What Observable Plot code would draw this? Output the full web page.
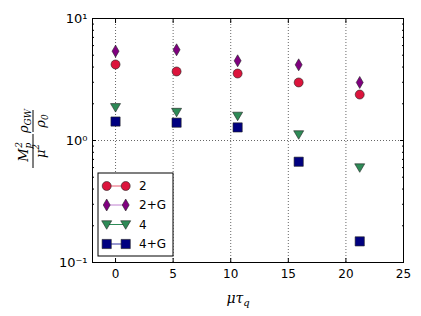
<!DOCTYPE html>
<html><head><meta charset="utf-8">
<script src="https://cdn.jsdelivr.net/npm/d3@7"></script>
<script src="https://cdn.jsdelivr.net/npm/@observablehq/plot@0.6"></script>
<style>
html,body{margin:0;padding:0;background:#fff;}
#chart{position:relative;width:421px;height:316px;}
</style></head>
<body><div id="chart"></div>
<script>
const xs = [0, 5.3, 10.6, 15.9, 21.2];
const s2 = [4.2, 3.68, 3.54, 2.99, 2.38];
const s2G = [5.4, 5.54, 4.5, 4.17, 2.99];
const s4 = [1.87, 1.71, 1.59, 1.12, 0.60];
const s4G = [1.43, 1.40, 1.28, 0.67, 0.149];
const seriesNames = ["2", "2+G", "4", "4+G"];
const seriesColors = ["#DC143C", "#800080", "#2E8B57", "#000080"];
const lineColors = ["#e8586f", "#c080d0", "#2E8B57", "#3030a0"];
const xTicks = [0, 5, 10, 15, 20, 25];
const yMajor = [0.1, 1, 10];
const yMajorLabels = ["10\u207B\u00B9", "10\u2070", "10\u00B9"];

const W = 421, H = 316, mL = 92, mR = 18, mT = 18, mB = 54;

const circleSym = {draw(ctx, size){ const r = Math.sqrt(size/Math.PI); ctx.moveTo(r,0); ctx.arc(0,0,r,0,2*Math.PI); }};
const thinDiamond = {draw(ctx, size){ const r = Math.sqrt(size/Math.PI); ctx.moveTo(0,-r); ctx.lineTo(r*0.58,0); ctx.lineTo(0,r); ctx.lineTo(-r*0.58,0); ctx.closePath(); }};
const triDown = {draw(ctx, size){ const r = Math.sqrt(size/Math.PI); ctx.moveTo(-r,-r*0.75); ctx.lineTo(r,-r*0.75); ctx.lineTo(0,r*0.95); ctx.closePath(); }};
const square = {draw(ctx, size){ const r = Math.sqrt(size/Math.PI); ctx.rect(-r,-r,2*r,2*r); }};
const symbols = [circleSym, thinDiamond, triDown, square];
const radii = [4.5, 6, 5, 4.6];
const values = [s2, s2G, s4, s4G];

const data = [];
values.forEach((arr, i) => arr.forEach((v, j) => data.push({x: xs[j], y: v, s: i})));

const minor = [];
for (const d of [0.1, 1]) for (let k = 2; k <= 9; k++) minor.push(+(d*k).toFixed(3));

const font = "DejaVu Sans, sans-serif";

const dotMarks = seriesNames.map((n, i) =>
  Plot.dot(data.filter(d => d.s === i), {x: "x", y: "y", symbol: symbols[i], r: radii[i],
    fill: seriesColors[i], stroke: "#222", strokeWidth: 0.6}));

const plot = Plot.plot({
  width: W, height: H,
  marginLeft: mL, marginRight: mR, marginTop: mT, marginBottom: mB,
  style: {fontFamily: font, fontSize: "12px", background: "transparent", color: "#000"},
  x: {domain: [-2, 25]},
  y: {type: "log", domain: [0.1, 10]},
  marks: [
    Plot.gridX(xTicks.slice(0, 5), {stroke: "#000", strokeOpacity: 0.6, strokeDasharray: "1,2"}),
    Plot.gridY([1], {stroke: "#000", strokeOpacity: 0.6, strokeDasharray: "1,2"}),
    Plot.axisX({anchor: "bottom", ticks: xTicks, tickSize: -4, tickPadding: 11, label: null, tickFormat: d => String(d), fontSize: 12}),
    Plot.axisX({anchor: "top", ticks: xTicks, tickSize: -4, label: null, tickFormat: () => ""}),
    Plot.axisY({anchor: "left", ticks: yMajor, tickSize: -4, tickPadding: 9, label: null, tickFormat: (d) => yMajorLabels[yMajor.indexOf(d)], fontSize: 13}),
    Plot.axisY({anchor: "left", ticks: minor, tickSize: -2, label: null, tickFormat: () => ""}),
    Plot.axisY({anchor: "right", ticks: yMajor, tickSize: -4, label: null, tickFormat: () => ""}),
    Plot.axisY({anchor: "right", ticks: minor, tickSize: -2, label: null, tickFormat: () => ""}),
    ...dotMarks,
    Plot.frame({stroke: "#000", strokeWidth: 1})
  ]
});
document.getElementById("chart").appendChild(plot);

const svg = d3.select(plot);

// legend
const lg = svg.append("g");
const lx = 98, ly = 173, lw = 75, lh = 83;
lg.append("rect").attr("x", lx).attr("y", ly).attr("width", lw).attr("height", lh)
  .attr("fill", "#fff").attr("stroke", "#000").attr("stroke-width", 1);
const rowY = [186, 205, 224.5, 244];
seriesNames.forEach((n, i) => {
  const y = rowY[i];
  lg.append("line").attr("x1", 106.7).attr("x2", 125.7).attr("y1", y).attr("y2", y)
    .attr("stroke", lineColors[i]).attr("stroke-width", 1);
  [106.7, 125.7].forEach(cx => {
    lg.append("path").attr("d", d3.symbol().type(symbols[i]).size(Math.PI*radii[i]*radii[i])())
      .attr("transform", `translate(${cx},${y})`).attr("fill", seriesColors[i])
      .attr("stroke", "#222").attr("stroke-width", 0.6);
  });
  lg.append("text").attr("x", 139).attr("y", y).attr("dy", "0.35em").attr("text-anchor", "start")
    .attr("font-family", font).attr("font-size", 12).text(n);
});

// x label
const xl = svg.append("text").attr("x", 238).attr("y", 303).attr("text-anchor", "middle")
  .attr("font-family", "DejaVu Serif, serif").attr("font-style", "italic").attr("font-size", 14);
xl.append("tspan").text("\u03BC\u03C4");
xl.append("tspan").attr("font-size", 10).attr("dy", 3).text("q");

// y label: two stacked fractions, rotated
const yl = svg.append("g").attr("transform", "translate(33,140) rotate(-90)")
  .attr("font-family", "DejaVu Serif, serif").attr("font-style", "italic");
function frac(cx, numParts, denParts, barW) {
  yl.append("line").attr("x1", cx - barW/2).attr("x2", cx + barW/2).attr("y1", 0).attr("y2", 0)
    .attr("stroke", "#000").attr("stroke-width", 1);
  const n = yl.append("text").attr("x", cx).attr("y", -5).attr("text-anchor", "middle").attr("font-size", 13);
  numParts.forEach(p => { const t = n.append("tspan").attr("font-size", p.s || 13).attr("dy", p.dy || 0).text(p.t); if (p.dx) t.attr("dx", p.dx); });
  const d = yl.append("text").attr("x", cx).attr("y", 12).attr("text-anchor", "middle").attr("font-size", 13);
  denParts.forEach(p => { const t = d.append("tspan").attr("font-size", p.s || 13).attr("dy", p.dy || 0).text(p.t); if (p.dx) t.attr("dx", p.dx); });
}
frac(-11, [{t: "M"}, {t: "p", s: 9, dy: 3}, {t: "2", s: 9, dy: -9, dx: -5}, {t: "\u2009", s: 9, dy: 6}], [{t: "\u03BC"}, {t: "2", s: 9, dy: -6}], 34);
frac(19, [{t: "\u03C1"}, {t: "GW", s: 9, dy: 3}], [{t: "\u03C1"}, {t: "0", s: 9, dy: 3}], 22);
</script>
</body></html>
